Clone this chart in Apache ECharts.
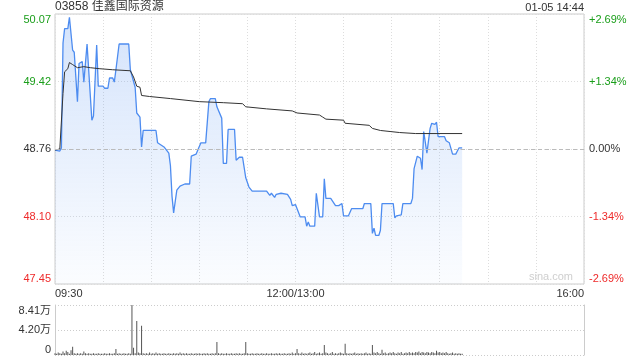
<!DOCTYPE html>
<html>
<head>
<meta charset="utf-8">
<script src="https://cdn.jsdelivr.net/npm/echarts@6/dist/echarts.min.js"></script>
<style>
html,body{margin:0;padding:0;background:#fff;}
#c{width:640px;height:360px;}
</style>
</head>
<body>
<div id="c"></div>
<script>
// ---- data ----
const stockTitle = '03858 佳鑫国际资源';
const stampText = '01-05 14:44';
const preClose = 48.76;
// minutes since 09:30 (lunch break removed)
const priceMinutes = [0,3,4,5,6,8,9,10,11,12,14,15,17,18,19,20,21,23,24,26,27,30,31,33,34,36,37,38,40,46,47,50,51,53,54,55,63,64,68,71,72,73,74,75,76,78,81,84,85,88,91,94,96,97,100,101,104,105,107,108,112,113,115,117,119,121,123,132,134,135,137,138,141,145,147,148,150,153,156,157,158,159,162,163,164,165,167,168,169,172,175,177,179,180,183,185,192,193,197,198,199,200,202,203,204,211,212,213,216,217,222,223,224,225,226,228,229,230,231,232,233,234,235,237,238,239,243,244,246,247,248,250,251,252,254];
const prices = [48.75,48.74,48.77,49.79,49.93,49.93,50.04,50.04,49.72,49.70,49.22,49.59,49.61,49.41,49.41,49.78,49.78,49.04,49.08,49.77,49.37,49.37,49.35,49.35,49.45,49.45,49.41,49.53,49.78,49.78,49.53,49.36,49.11,49.07,48.78,48.94,48.94,48.82,48.78,48.72,48.60,48.30,48.14,48.14,48.36,48.40,48.42,48.42,48.69,48.71,48.82,48.82,49.22,49.25,49.25,49.17,49.06,48.62,48.62,48.95,48.95,48.65,48.68,48.68,48.48,48.39,48.35,48.35,48.31,48.33,48.29,48.32,48.33,48.32,48.27,48.21,48.22,48.10,48.10,48.01,48.05,48.01,48.01,48.33,48.33,48.10,48.10,48.47,48.28,48.28,48.21,48.21,48.23,48.11,48.11,48.18,48.18,48.23,48.23,47.94,47.99,47.92,47.92,47.97,48.23,48.23,48.09,48.11,48.12,48.23,48.23,48.28,48.57,48.57,48.69,48.67,48.56,48.93,48.93,48.72,48.72,48.96,49.01,49.00,49.02,48.88,48.88,48.84,48.82,48.82,48.71,48.71,48.74,48.77,48.77];
const avgMinutes = [0,3,5,6,8,9,11,14,18,22,28,36,47,49,51,53,54,59,72,90,105,117,119,132,148,151,165,167,169,180,181,196,198,203,209,215,225,254];
const avgPrices = [48.75,48.76,49.30,49.51,49.54,49.60,49.58,49.55,49.56,49.55,49.54,49.53,49.52,49.46,49.37,49.36,49.28,49.27,49.25,49.22,49.21,49.20,49.17,49.15,49.13,49.11,49.09,49.07,49.05,49.04,49.01,48.99,48.96,48.94,48.93,48.92,48.91,48.91];
// volume per minute (万), minute 0..254
const volumes = [
0.3,0.2,0.4,0.3,0.2,0.6,0.3,0.7,0.5,0.2,0.8,1.4,0.3,0.2,0.3,0.2,0.3,0.2,0.6,0.3,0.2,0.3,0.2,0.2,0.3,0.2,0.2,0.3,0.2,0.2,
0.2,0.3,0.2,0.2,0.3,0.2,0.2,0.3,1.0,0.2,0.3,0.2,0.2,0.3,0.2,0.2,0.3,0.2,8.41,1.2,0.3,5.7,0.4,0.3,4.9,0.3,0.2,0.3,0.2,0.4,
0.2,0.3,0.2,0.4,0.2,0.3,0.2,0.2,0.3,0.2,0.2,0.3,0.2,0.2,0.3,0.2,0.3,0.2,0.4,0.2,0.3,0.2,0.3,0.2,0.2,0.3,0.2,0.2,0.3,0.2,
0.3,0.2,0.2,0.3,0.2,0.3,0.2,0.2,0.3,0.2,0.3,2.2,0.3,0.2,0.3,0.2,0.2,0.3,0.2,0.2,0.3,0.2,0.2,0.3,0.2,0.3,0.2,0.2,0.3,2.2,
0.3,0.2,0.2,0.3,0.2,0.2,0.3,0.2,0.2,0.3,0.2,0.2,0.3,0.2,0.2,0.3,0.2,0.2,0.3,0.2,0.3,0.2,0.2,0.3,0.2,0.2,0.3,0.2,0.4,0.2,
0.3,1.0,0.3,0.2,0.4,0.2,0.3,0.2,0.3,0.4,0.2,0.3,0.5,0.2,0.3,0.4,0.2,0.3,1.7,0.4,0.3,0.2,0.3,0.5,0.2,0.3,0.2,0.3,0.4,0.3,
0.2,1.9,0.3,0.2,0.3,0.2,0.3,0.4,0.2,0.3,0.2,0.3,0.2,0.3,0.4,0.2,0.3,0.2,1.7,0.4,0.3,0.5,0.3,0.2,0.9,0.3,0.4,0.2,0.3,0.4,
0.3,0.5,0.3,0.2,0.4,0.3,0.5,0.2,0.3,0.4,0.3,0.5,0.3,0.4,0.3,0.5,0.4,0.6,0.3,0.5,0.4,0.3,0.5,0.4,0.3,0.5,0.4,0.3,0.7,0.4,
0.5,0.3,0.4,0.3,0.5,0.3,0.2,0.3,0.4,0.2,0.3,0.2,0.3,0.2,0.2
];
const priceTickLabels = ['47.45','48.10','48.76','49.42','50.07'];
const pctTickLabels = ['-2.69%','-1.34%','0.00%','+1.34%','+2.69%'];
const volTickLabels = ['0','4.20万','8.41万'];
const timeTickMinutes = [0,150,330];
const timeTickLabels = ['09:30','12:00/13:00','16:00'];
const pctRange = 2.69;
const volMax = 8.41;

// ---- chart ----
const FONT = 'Arial, "Liberation Sans", "Noto Sans CJK SC", sans-serif';
const GREEN = '#1a9e1a', RED = '#ee2a2a', DARK = '#333';
const toPct = p => (p / preClose - 1) * 100;
const pctIdx = v => Math.round((parseFloat(v) + pctRange) / (pctRange / 2));
const pctColor = v => { v = parseFloat(v); return v > 0.001 ? GREEN : (v < -0.001 ? RED : DARK); };

const priceData = priceMinutes.map((m, i) => [m, toPct(prices[i])]);
const avgData = avgMinutes.map((m, i) => [m, toPct(avgPrices[i])]);
const volData = volumes.map((v, i) => [i, v]);

const chart = echarts.init(document.getElementById('c'), null, {renderer: 'canvas'});
chart.setOption({
  animation: false,
  textStyle: {fontFamily: FONT},
  grid: [
    {left: 55, right: 56, top: 14, height: 270, show: true, borderColor: '#ccc', borderWidth: 1},
    {left: 55, right: 56, top: 305, height: 50}
  ],
  xAxis: [
    {
      type: 'value', gridIndex: 0, min: 0, max: 330, interval: 30,
      axisLine: {show: false}, axisTick: {show: false},
      splitLine: {show: true, lineStyle: {color: '#ddd', type: [1, 2], width: 1}},
      axisLabel: {
        show: true, margin: 4, fontSize: 11, color: DARK, fontFamily: FONT,
        alignMinLabel: 'left', alignMaxLabel: 'right',
        formatter: v => { const k = timeTickMinutes.indexOf(Math.round(v)); return k >= 0 ? timeTickLabels[k] : ''; }
      }
    },
    {
      type: 'value', gridIndex: 1, min: 0, max: 330, interval: 30,
      axisLine: {show: false}, axisTick: {show: false}, splitLine: {show: false}, axisLabel: {show: false}
    }
  ],
  yAxis: [
    {
      type: 'value', gridIndex: 0, position: 'left', min: -pctRange, max: pctRange, interval: pctRange / 2,
      axisLine: {show: false}, axisTick: {show: false},
      splitLine: {show: true, lineStyle: {color: '#ddd', type: [1, 2], width: 1}},
      axisLabel: {
        margin: 4, fontSize: 11, fontFamily: FONT,
        verticalAlignMinLabel: 'bottom', verticalAlignMaxLabel: 'top',
        formatter: v => priceTickLabels[pctIdx(v)],
        color: v => pctColor(v)
      }
    },
    {
      type: 'value', gridIndex: 0, position: 'right', min: -pctRange, max: pctRange, interval: pctRange / 2,
      axisLine: {show: false}, axisTick: {show: false}, splitLine: {show: false},
      axisLabel: {
        margin: 5, fontSize: 11, fontFamily: FONT,
        verticalAlignMinLabel: 'bottom', verticalAlignMaxLabel: 'top',
        formatter: v => pctTickLabels[pctIdx(v)],
        color: v => pctColor(v)
      }
    },
    {
      type: 'value', gridIndex: 1, position: 'left', min: 0, max: volMax, interval: volMax / 2,
      axisLine: {show: true, lineStyle: {color: '#ccc'}}, axisTick: {show: false},
      splitLine: {show: true, lineStyle: {color: '#ccc', type: [1, 2], width: 1}},
      axisLabel: {
        margin: 4, fontSize: 11, color: DARK, fontFamily: FONT,
        verticalAlignMinLabel: 'bottom', verticalAlignMaxLabel: 'top',
        formatter: v => volTickLabels[Math.round(parseFloat(v) / (volMax / 2))]
      }
    },
    {
      type: 'value', gridIndex: 1, position: 'right', min: 0, max: volMax, interval: volMax / 2,
      axisLine: {show: true, lineStyle: {color: '#ccc'}}, axisTick: {show: false},
      splitLine: {show: false}, axisLabel: {show: false}
    }
  ],
  graphic: [
    {type: 'text', left: 55, top: 1, style: {text: stockTitle, fontSize: 12, fill: DARK, fontFamily: FONT}},
    {type: 'text', right: 56, top: 2, style: {text: stampText, fontSize: 11, fill: DARK, fontFamily: FONT}},
    {type: 'text', right: 67, top: 271, style: {text: 'sina.com', fontSize: 11, fill: '#cfcfcf', fontFamily: FONT}}
  ],
  series: [
    {
      type: 'line', xAxisIndex: 0, yAxisIndex: 0, data: priceData, showSymbol: false, symbol: 'none',
      lineStyle: {color: '#4d8cf0', width: 1.3},
      areaStyle: {
        origin: 'start',
        color: new echarts.graphic.LinearGradient(0, 0, 0, 1, [
          {offset: 0, color: 'rgba(77,140,240,0.34)'},
          {offset: 1, color: 'rgba(77,140,240,0.03)'}
        ])
      },
      markLine: {
        silent: true, symbol: 'none', label: {show: false},
        lineStyle: {color: '#bbb', type: [4, 3], width: 1},
        data: [{yAxis: 0}]
      },
      z: 3
    },
    {
      type: 'line', xAxisIndex: 0, yAxisIndex: 0, data: avgData, showSymbol: false, symbol: 'none',
      lineStyle: {color: '#333', width: 1}, z: 4
    },
    {
      type: 'bar', xAxisIndex: 1, yAxisIndex: 2, data: volData, barWidth: 1,
      itemStyle: {color: '#555'}
    }
  ]
});
</script>
</body>
</html>
